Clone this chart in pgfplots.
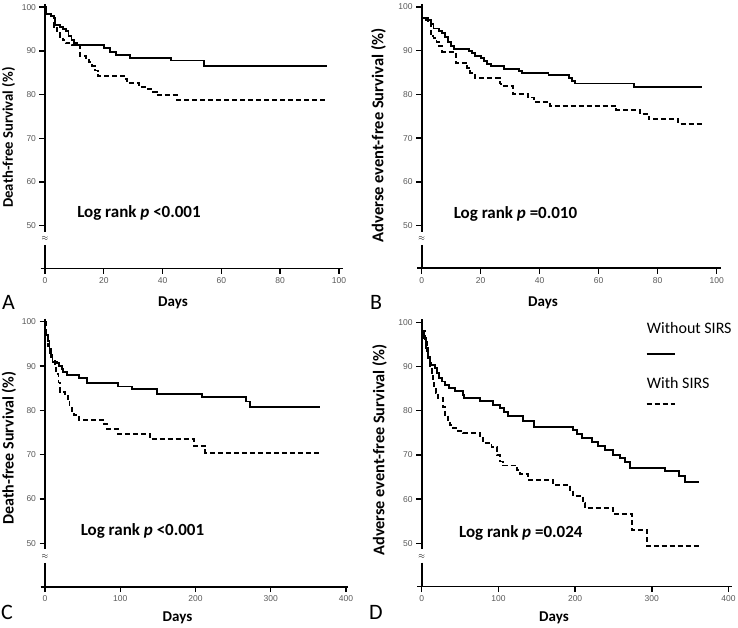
\documentclass[border=0pt]{standalone}
\usepackage{fontspec}
\setmainfont{Carlito}
\newfontfamily\tickfont{Liberation Sans}
\usepackage{pgfplots}
\pgfplotsset{compat=1.18}
\pgfplotsset{
  km/.style={
    scale only axis, anchor=south west,
    ymin=40.2, ymax=100.7, xmin=0,
    axis line style={draw=none},
    tick pos=left, tick align=outside,
    major tick length=5.5pt,
    tick style={black, line width=1.4pt},
    ytick={50,60,70,80,90,100},
    ticklabel style={font=\tickfont\fontsize{8.5}{10}\selectfont, text=black!65},
    /pgf/number format/assume math mode=true,
    clip=false,
  },
  surv/.style={const plot, black, line width=1.9pt, mark=none},
  survd/.style={surv, dash pattern=on 5pt off 3pt},
}
\newcommand\kmaxes{%
  \draw[line width=1.8pt] ([xshift=-4.5pt]axis cs:0,40.2) -- (rel axis cs:1,0);
  \draw[line width=1.8pt] (rel axis cs:0,1) -- (axis cs:0,48.6);
  \draw[line width=1.8pt] (axis cs:0,45.6) -- ([yshift=-0.9pt]axis cs:0,40.2);
  \node[inner sep=0pt, font=\fontsize{8}{8}\selectfont] at (axis cs:0,47.1) {$\approx$};
}
\begin{document}
\begin{tikzpicture}
\useasboundingbox (0pt,0pt) rectangle (738pt,628pt);
% ---------------- Panel A
\begin{axis}[km, at={(45pt,359.5pt)}, width=298.1pt, height=264.4pt, xmax=101.4,
  xtick={0,20,40,60,80,100}]
\kmaxes
\addplot[surv] coordinates {(0,100) (0.3,98.5) (2,98) (3,97.5) (3.5,96) (5,95.5) (6,95) (7,94.5) (8,93.5) (9,92.5) (10,91.8) (11,91.3) (20,90.7) (22,89.7) (24,89.0) (29,88.4) (43,87.8) (54,86.6) (96,86.6)};
\addplot[survd] coordinates {(0,100) (0.3,98.5) (2,98) (3,95.5) (4,94.5) (5,93.2) (6,92.5) (7,91.8) (9,91.3) (12,88.8) (14,88.4) (15,87.4) (16,86.5) (17,85.5) (18,84.3) (27,83.5) (28,82.6) (32,81.7) (35,81.2) (36,80.6) (38,79.8) (45,78.8) (96,78.8)};
\end{axis}
% ---------------- Panel B
\begin{axis}[km, at={(421.7pt,359.6pt)}, width=299.1pt, height=264.4pt, xmax=101.4,
  xtick={0,20,40,60,80,100}]
\kmaxes
\addplot[surv] coordinates {(0,100) (0.2,97.5) (2,97) (3,96.2) (4,95.1) (6,94.6) (7,94) (8,93.2) (9,92) (10,91) (11,90.5) (16,90) (17,89.5) (18,88.8) (20,88.3) (21,87.6) (22,86.9) (23.5,86.5) (28,85.9) (33,85.4) (34,84.9) (43,84.4) (50,83.7) (51,83) (52,82.5) (72,81.7) (95,81.7)};
\addplot[survd] coordinates {(0,100) (0.2,97) (2,96.5) (3,93.3) (4,93) (5,92) (6,91) (7,89.7) (11.5,87.2) (15.5,86) (16.5,85) (18,83.8) (26.5,82.5) (27,81.9) (31,80.1) (36,79.3) (38,78.3) (43.5,77.3) (66,76.5) (74,75.5) (77,74.3) (87,73.2) (95,73.2)};
\end{axis}
% ---------------- Panel C
\begin{axis}[km, at={(45pt,41.3pt)}, width=303.3pt, height=268pt, xmax=403,
  xtick={0,100,200,300,400}]
\kmaxes
\addplot[surv] coordinates {(0,100) (0.5,98) (2,97) (4,95.7) (6,93.8) (8,92) (10,91) (16,90.6) (19,90.1) (22,89.3) (24,88.6) (29,88.0) (45,87.4) (56,86.1) (97,85.4) (115,84.8) (149,83.8) (209,83.0) (267,82.0) (272,80.8) (366,80.8)};
\addplot[survd] coordinates {(0,100) (1,97) (4,94.6) (7,92.7) (10,91.2) (13,90.1) (15,88.2) (18,86.3) (19.5,84.2) (26.7,83.3) (30,82.2) (32.5,81.1) (35.5,79.9) (38,78.9) (44.6,77.9) (78.7,76.9) (82,75.8) (96.4,74.7) (139,73.5) (198,72.0) (213,70.4) (366,70.4)};
\end{axis}
% ---------------- Panel D
\begin{axis}[km, at={(421.7pt,41.4pt)}, width=309.9pt, height=267.4pt, xmax=404,
  xtick={0,100,200,300,400}]
\kmaxes
\addplot[surv] coordinates {(0,100) (0.5,98) (3,96.4) (5.6,94.1) (8.7,92.2) (10.8,90.7) (11.7,90.4) (17.3,89.6) (19.5,88.5) (23,87.3) (26,86.6) (30.4,85.8) (36,85.1) (43.4,84.5) (53.4,83.6) (55.1,82.8) (76,82.1) (93.4,81.2) (102,80.6) (107.3,79.7) (113,78.7) (132.5,77.7) (146.4,76.4) (197.7,75.7) (202,74.8) (209.4,73.8) (221.6,73.0) (230.3,72.1) (239,71.1) (249.8,70.0) (258.5,69.3) (265,68.3) (271.6,67.1) (317.2,66.4) (335.9,65.3) (343.7,63.8) (362,63.8)};
\addplot[survd] coordinates {(0,100) (1,98) (4.3,95.6) (7.3,93.4) (8.6,91.9) (10.8,90.0) (13,88.5) (14.3,86.6) (16,85.5) (18.6,84.0) (21.7,82.8) (28,80.9) (30.4,79.0) (34.7,77.9) (36.9,76.8) (41.2,76.0) (47.7,75.4) (54.3,74.9) (76,73.9) (80.4,72.6) (91,71.7) (98.6,70.0) (102,68.5) (106.4,67.6) (123.8,66.6) (128,65.6) (139,64.4) (171.6,63.2) (193.4,62.1) (197.7,60.6) (210.7,59.1) (213,57.9) (249.8,56.6) (273.8,53.1) (293.4,49.3) (362,49.3)};
\end{axis}
% ---------------- Texts
\begin{scope}[every node/.style={inner sep=0pt}]
\node[font=\fontsize{22}{22}\selectfont] at (8.5pt,325.5pt) {A};
\node[font=\fontsize{22}{22}\selectfont] at (376pt,325.5pt) {B};
\node[font=\fontsize{22}{22}\selectfont] at (7pt,15.5pt) {C};
\node[font=\fontsize{22}{22}\selectfont] at (376pt,15.5pt) {D};
\node[font=\bfseries\fontsize{15}{15}\selectfont] at (173pt,325pt) {Days};
\node[font=\bfseries\fontsize{15}{15}\selectfont] at (543pt,325pt) {Days};
\node[font=\bfseries\fontsize{15}{15}\selectfont] at (177.5pt,10pt) {Days};
\node[font=\bfseries\fontsize{15}{15}\selectfont] at (554pt,10pt) {Days};
\node[rotate=90, font=\bfseries\fontsize{14.7}{14.7}\selectfont] at (8.5pt,490.5pt) {Death-free Survival (\%)};
\node[rotate=90, font=\bfseries\fontsize{16.5}{16.5}\selectfont] at (378.5pt,492.5pt) {Adverse event-free Survival (\%)};
\node[rotate=90, font=\bfseries\fontsize{16}{16}\selectfont] at (9pt,180pt) {Death-free Survival (\%)};
\node[rotate=90, font=\bfseries\fontsize{16.3}{16.3}\selectfont] at (379.5pt,178pt) {Adverse event-free Survival (\%)};
\node[font=\bfseries\fontsize{17}{17}\selectfont] at (139pt,415pt) {Log rank \textit{p} <0.001};
\node[font=\bfseries\fontsize{17}{17}\selectfont] at (515.5pt,414pt) {Log rank \textit{p} =0.010};
\node[font=\bfseries\fontsize{17}{17}\selectfont] at (142.5pt,97.3pt) {Log rank \textit{p} <0.001};
\node[font=\bfseries\fontsize{17}{17}\selectfont] at (520.8pt,95.3pt) {Log rank \textit{p} =0.024};
\node[anchor=west, font=\fontsize{16}{16}\selectfont] at (646.7pt,299.7pt) {Without SIRS};
\node[anchor=west, font=\fontsize{16}{16}\selectfont] at (646.7pt,244.7pt) {With SIRS};
\end{scope}
\draw[line width=1.9pt] (646.7pt,273.7pt) -- (675pt,273.7pt);
\draw[line width=1.9pt, dash pattern=on 5pt off 3pt] (646.7pt,223.7pt) -- (675pt,223.7pt);
\end{tikzpicture}
\end{document}
